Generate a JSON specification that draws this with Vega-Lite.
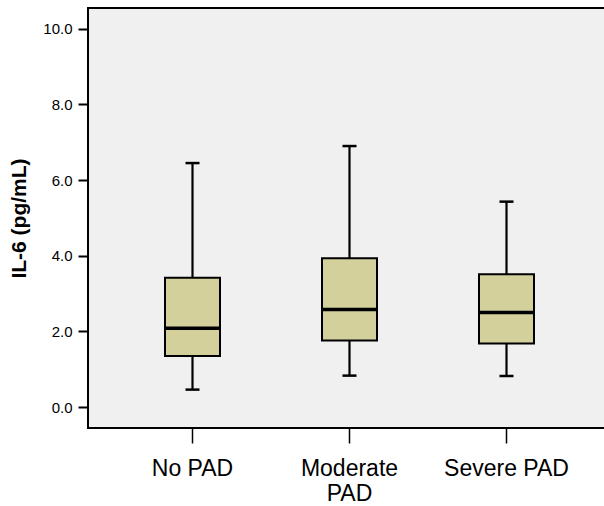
{
  "$schema": "https://vega.github.io/schema/vega-lite/v6.json",
  "autosize": "none",
  "padding": {"left": 88, "top": 8, "right": 0, "bottom": 78},
  "width": 523,
  "height": 420,
  "background": "white",
  "config": {
    "view": {"fill": "#f0f0f0", "stroke": "black", "strokeWidth": 2},
    "font": "Liberation Sans"
  },
  "data": {
    "values": [
      {"group": "No PAD", "min": 0.46, "q1": 1.35, "median": 2.08, "q3": 3.42, "max": 6.45},
      {"group": "Moderate PAD", "min": 0.83, "q1": 1.76, "median": 2.58, "q3": 3.93, "max": 6.9},
      {"group": "Severe PAD", "min": 0.82, "q1": 1.68, "median": 2.5, "q3": 3.51, "max": 5.43}
    ]
  },
  "encoding": {
    "x": {
      "field": "group",
      "type": "nominal",
      "sort": ["No PAD", "Moderate PAD", "Severe PAD"],
      "scale": {"paddingInner": 0.5, "paddingOuter": 0.4156},
      "axis": {
        "title": null,
        "domain": false,
        "labelAngle": 0,
        "labelFontSize": 23,
        "labelColor": "black",
        "labelPadding": 14,
        "labelLineHeight": 25,
        "labelExpr": "datum.label == 'Moderate PAD' ? ['Moderate', 'PAD'] : datum.label",
        "tickColor": "black",
        "tickSize": 15,
        "tickWidth": 1.5
      }
    }
  },
  "layer": [
    {
      "mark": {"type": "rule", "color": "black", "strokeWidth": 2.2},
      "encoding": {
        "y": {
          "field": "min",
          "type": "quantitative",
          "scale": {"domain": [-0.555, 10.55], "nice": false, "zero": false},
          "axis": {
            "title": "IL-6 (pg/mL)",
            "titleFontSize": 21,
            "titleFontWeight": "bold",
            "titleColor": "black",
            "titlePadding": 13,
            "values": [0, 2, 4, 6, 8, 10],
            "format": ".1f",
            "grid": false,
            "domain": false,
            "labelFontSize": 15,
            "labelColor": "black",
            "labelPadding": 6,
            "tickColor": "black",
            "tickSize": 10,
            "tickWidth": 2
          }
        },
        "y2": {"field": "max"}
      }
    },
    {
      "mark": {"type": "bar", "fill": "#d3d09c", "stroke": "black", "strokeWidth": 2, "size": 55, "opacity": 1},
      "encoding": {
        "y": {"field": "q1", "type": "quantitative"},
        "y2": {"field": "q3"}
      }
    },
    {
      "mark": {"type": "tick", "color": "black", "size": 55, "thickness": 3.5, "opacity": 1},
      "encoding": {"y": {"field": "median", "type": "quantitative"}}
    },
    {
      "mark": {"type": "tick", "color": "black", "size": 14, "thickness": 2.5, "opacity": 1},
      "encoding": {"y": {"field": "min", "type": "quantitative"}}
    },
    {
      "mark": {"type": "tick", "color": "black", "size": 14, "thickness": 2.5, "opacity": 1},
      "encoding": {"y": {"field": "max", "type": "quantitative"}}
    }
  ]
}
